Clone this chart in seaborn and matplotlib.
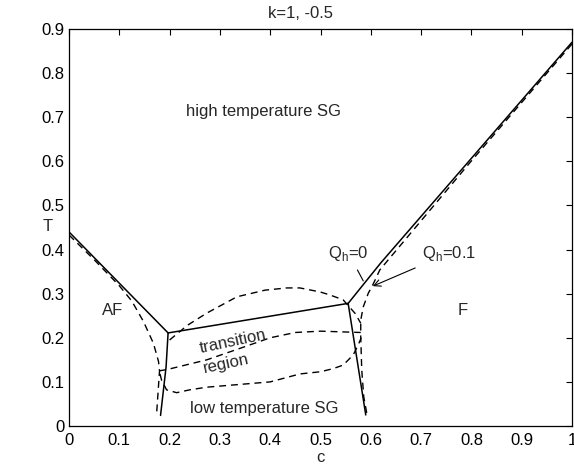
import matplotlib
matplotlib.use("Agg")
import matplotlib.pyplot as plt
import seaborn as sns
import numpy as np

# ---- data ----
# solid boundaries, Q_h = 0
af_solid_c = [0.0, 0.197]
af_solid_T = [0.440, 0.211]
left_solid_c = [0.197, 0.193, 0.182]
left_solid_T = [0.211, 0.134, 0.024]
mid_solid_c = [0.197, 0.555]
mid_solid_T = [0.211, 0.278]
right_solid_c = [0.555, 0.590]
right_solid_T = [0.278, 0.025]
f_solid_c = [0.555, 0.620, 1.0]
f_solid_T = [0.278, 0.370, 0.870]

# dashed boundaries, Q_h = 0.1
af_dash_c = [0.0, 0.05, 0.10, 0.125, 0.148, 0.168, 0.178, 0.180, 0.178, 0.174]
af_dash_T = [0.433, 0.377, 0.318, 0.283, 0.237, 0.187, 0.146, 0.125, 0.092, 0.025]
f_dash_c = [1.0, 0.80, 0.618, 0.604, 0.595, 0.585, 0.580, 0.580, 0.582, 0.586, 0.592]
f_dash_T = [0.866, 0.601, 0.354, 0.320, 0.301, 0.270, 0.240, 0.202, 0.127, 0.066, 0.029]
upper_dash_c = [0.200, 0.235, 0.274, 0.334, 0.390, 0.433, 0.459, 0.499, 0.519, 0.545, 0.569, 0.580]
upper_dash_T = [0.195, 0.228, 0.256, 0.293, 0.308, 0.313, 0.313, 0.304, 0.297, 0.286, 0.255, 0.233]
middle_dash_c = [0.179, 0.195, 0.274, 0.350, 0.400, 0.450, 0.500, 0.580]
middle_dash_T = [0.125, 0.128, 0.150, 0.180, 0.200, 0.212, 0.215, 0.212]
lower_dash_c = [0.181, 0.184, 0.194, 0.214, 0.240, 0.274, 0.400, 0.459, 0.500, 0.525, 0.545, 0.565, 0.575, 0.581]
lower_dash_T = [0.118, 0.104, 0.082, 0.0755, 0.082, 0.088, 0.100, 0.118, 0.123, 0.130, 0.138, 0.161, 0.184, 0.200]

xticks = [0, 0.1, 0.2, 0.3, 0.4, 0.5, 0.6, 0.7, 0.8, 0.9, 1]
xticklabels = ["0", "0.1", "0.2", "0.3", "0.4", "0.5", "0.6", "0.7", "0.8", "0.9", "1"]
yticks = [0, 0.1, 0.2, 0.3, 0.4, 0.5, 0.6, 0.7, 0.8, 0.9]
yticklabels = ["0", "0.1", "0.2", "0.3", "0.4", "0.5", "0.6", "0.7", "0.8", "0.9"]

# ---- style ----
sns.set_style("white")
plt.rcParams["font.family"] = ["Liberation Sans", "DejaVu Sans"]
plt.rcParams["mathtext.fontset"] = "custom"
plt.rcParams["mathtext.rm"] = "Liberation Sans"
FS = 12

fig = plt.figure(figsize=(5.74, 4.68), dpi=100)
ax = fig.add_axes([69 / 574, 42 / 468, 503 / 574, 397 / 468])

solid = [(af_solid_c, af_solid_T), (left_solid_c, left_solid_T), (mid_solid_c, mid_solid_T),
         (right_solid_c, right_solid_T), (f_solid_c, f_solid_T)]
dashed = [(af_dash_c, af_dash_T), (f_dash_c, f_dash_T), (upper_dash_c, upper_dash_T),
          (middle_dash_c, middle_dash_T), (lower_dash_c, lower_dash_T)]

for cc, tt in solid:
    sns.lineplot(x=cc, y=tt, sort=False, estimator=None, color="k", lw=1.1, ax=ax)
for cc, tt in dashed:
    sns.lineplot(x=cc, y=tt, sort=False, estimator=None, color="k", lw=1.0,
                 linestyle=(0, (5, 3.5)), ax=ax)

ax.set_xlim(0, 1)
ax.set_ylim(0, 0.9)
ax.set_xticks(xticks)
ax.set_xticklabels(xticklabels, fontsize=FS)
ax.set_yticks(yticks)
ax.set_yticklabels(yticklabels, fontsize=FS)
ax.tick_params(direction="in", length=4, width=0.8, top=True, right=True, colors="k")
ax.tick_params(axis="x", pad=5)
ax.tick_params(axis="y", pad=3)
for s in ax.spines.values():
    s.set_color("k")
    s.set_linewidth(0.9)

ax.set_xlabel("c", fontsize=FS, labelpad=0)
ax.set_ylabel("T", fontsize=FS, rotation=0, labelpad=0)
ax.yaxis.set_label_coords((48 - 69) / 503, (426 - 227) / 397)
ax.yaxis.label.set_verticalalignment("center")
ax.yaxis.label.set_horizontalalignment("center")
ax.xaxis.set_label_coords((320 - 69) / 503, -(462 - 426) / 397)
ax.xaxis.label.set_verticalalignment("baseline")

fig.text(300 / 574, 1 - 14 / 468, "k=1, -0.5", ha="center", va="center", fontsize=FS)

ax.text(0.386, 0.712, "high temperature SG", ha="center", va="center", fontsize=FS)
ax.text(0.087, 0.261, "AF", ha="center", va="center", fontsize=FS)
ax.text(0.783, 0.261, "F", ha="center", va="center", fontsize=FS)
ax.text(0.389, 0.040, "low temperature SG", ha="center", va="center", fontsize=FS)
ax.text(0.326, 0.191, "transition", ha="center", va="center", fontsize=FS, rotation=12)
ax.text(0.313, 0.142, "region", ha="center", va="center", fontsize=FS, rotation=12)

ax.annotate(r"Q$_\mathregular{h}$=0", xy=(0.585, 0.329), xytext=(0.556, 0.391),
            ha="center", va="center", fontsize=FS,
            arrowprops=dict(arrowstyle="-", color="k", lw=0.8, shrinkA=3, shrinkB=0))
ax.annotate(r"Q$_\mathregular{h}$=0.1", xy=(0.604, 0.317), xytext=(0.755, 0.391),
            ha="center", va="center", fontsize=FS,
            arrowprops=dict(arrowstyle="->", color="k", lw=0.8, shrinkA=3, shrinkB=0))

fig.savefig("out.png", dpi=100)
